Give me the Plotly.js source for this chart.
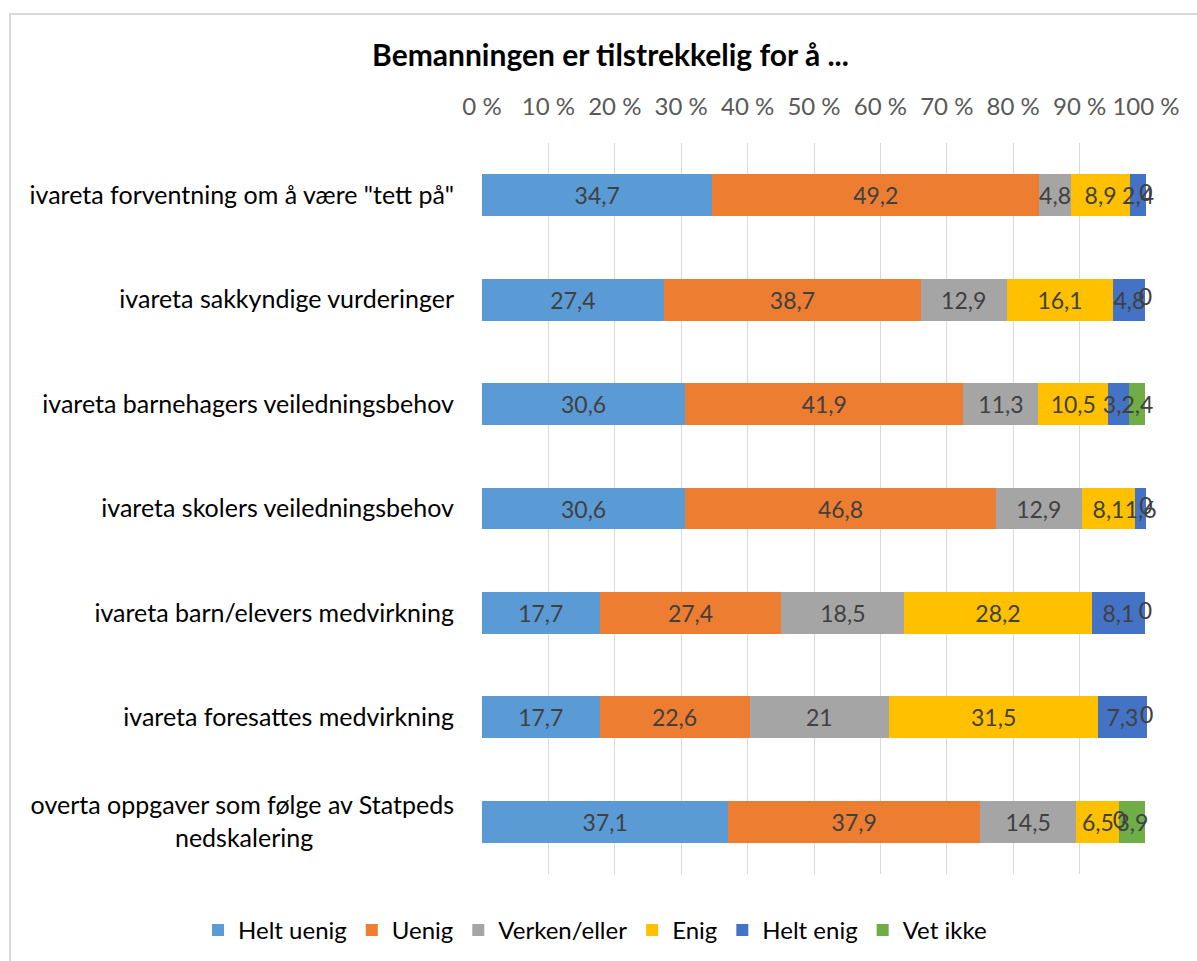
<!DOCTYPE html>
<html>
<head>
<meta charset="utf-8">
<script src="https://cdn.plot.ly/plotly-3.0.1.min.js"></script>
<style>
  body { margin: 0; background: #fff; overflow: hidden; }
  #chart { position: absolute; left: 0; top: 0; width: 1197px; height: 961px; }
  #frame { position: absolute; left: 9px; top: 13px; width: 1200px; height: 1000px;
           border: 2px solid #d9d9d9; pointer-events: none; }
</style>
</head>
<body>
<div id="chart"></div>
<div id="frame"></div>
<script>
const categories = [
    'ivareta forventning om å være "tett på"',
    'ivareta sakkyndige vurderinger',
    'ivareta barnehagers veiledningsbehov',
    'ivareta skolers veiledningsbehov',
    'ivareta barn/elevers medvirkning',
    'ivareta foresattes medvirkning',
    'overta oppgaver som følge av Statpeds nedskalering'
];
// tick labels as wrapped in the original (second line roughly centred)
const categoryLabels = [
    'ivareta forventning om å være "tett på"',
    'ivareta sakkyndige vurderinger',
    'ivareta barnehagers veiledningsbehov',
    'ivareta skolers veiledningsbehov',
    'ivareta barn/elevers medvirkning',
    'ivareta foresattes medvirkning',
    'overta oppgaver som følge av Statpeds<br>nedskalering' + '\u00a0'.repeat(22)
];

const seriesNames = ['Helt uenig', 'Uenig', 'Verken/eller', 'Enig', 'Helt enig', 'Vet ikke'];
const seriesColors = ['#5B9BD5', '#ED7D31', '#A5A5A5', '#FFC000', '#4472C4', '#70AD47'];

const heltUenig  = [34.7, 27.4, 30.6, 30.6, 17.7, 17.7, 37.1];
const uenig      = [49.2, 38.7, 41.9, 46.8, 27.4, 22.6, 37.9];
const verken     = [4.8, 12.9, 11.3, 12.9, 18.5, 21, 14.5];
const enig       = [8.9, 16.1, 10.5, 8.1, 28.2, 31.5, 6.5];
const heltEnig   = [2.4, 4.8, 3.2, 1.6, 8.1, 7.3, 0];
const vetIkke    = [0, 0, 2.4, 0, 0, 0, 3.9];

const xTickVals = [0, 10, 20, 30, 40, 50, 60, 70, 80, 90, 100];
const xTickText = xTickVals.map(v => v + ' %');

const FONT = 'Lato, "Open Sans", sans-serif';
const LABEL_FONT = { family: FONT, size: 23, color: '#404040' };
const series = [heltUenig, uenig, verken, enig, heltEnig, vetIkke];
const fmt = v => String(v).replace('.', ',');

const traces = series.map((vals, i) => ({
    name: seriesNames[i],
    type: 'bar',
    orientation: 'h',
    x: vals,
    y: categories,
    text: vals.map(v => v === 0 ? '' : fmt(v)),
    textposition: 'inside',
    insidetextanchor: 'middle',
    constraintext: 'none',
    textangle: 0,
    cliponaxis: false,
    insidetextfont: LABEL_FONT,
    marker: { color: seriesColors[i] },
    hoverinfo: 'name+x'
}));

// zero-width segments still get a "0" label at their place in the stack
const zeroX = [], zeroY = [];
categories.forEach((cat, r) => {
    let cum = 0;
    series.forEach(vals => {
        if (vals[r] === 0) { zeroX.push(cum); zeroY.push(cat); }
        cum += vals[r];
    });
});
traces.push({
    type: 'scatter',
    mode: 'text',
    x: zeroX,
    y: zeroY,
    text: zeroX.map(() => '0'),
    textposition: 'middle center',
    textfont: LABEL_FONT,
    cliponaxis: false,
    showlegend: false,
    hoverinfo: 'skip'
});

const layout = {
    width: 1197,
    height: 961,
    paper_bgcolor: '#fff',
    plot_bgcolor: '#fff',
    font: { family: FONT, color: '#404040' },
    barmode: 'stack',
    bargap: 0.6,
    title: {
        text: '<b>Bemanningen er tilstrekkelig for å ...</b>',
        font: { family: FONT, size: 30, color: '#000' },
        x: 0.51, xanchor: 'center',
        y: 1 - 55 / 961, yanchor: 'middle', yref: 'container'
    },
    xaxis: {
        side: 'top',
        range: [0, 100.15],
        tickvals: xTickVals,
        ticktext: xTickText,
        tickfont: { family: FONT, size: 24, color: '#595959' },
        ticks: 'outside',
        ticklen: 17,
        tickcolor: 'rgba(0,0,0,0)',
        showgrid: true,
        gridcolor: '#d9d9d9',
        gridwidth: 1,
        zeroline: false,
        showline: false,
        fixedrange: true
    },
    yaxis: {
        autorange: 'reversed',
        tickvals: categories,
        ticktext: categoryLabels,
        tickfont: { family: FONT, size: 25, color: '#000' },
        ticks: 'outside',
        ticklen: 22,
        tickcolor: 'rgba(0,0,0,0)',
        showline: false,
        showgrid: false,
        fixedrange: true
    },
    showlegend: true,
    legend: {
        orientation: 'h',
        x: -0.427, xanchor: 'left',
        y: -0.077, yanchor: 'middle',
        font: { family: FONT, size: 24, color: '#000' },
        traceorder: 'normal',
        itemwidth: 30
    },
    margin: { l: 482, r: 50, t: 143, b: 87, autoexpand: false }
};

Plotly.newPlot('chart', traces, layout, { displayModeBar: false, staticPlot: true });
</script>
</body>
</html>
